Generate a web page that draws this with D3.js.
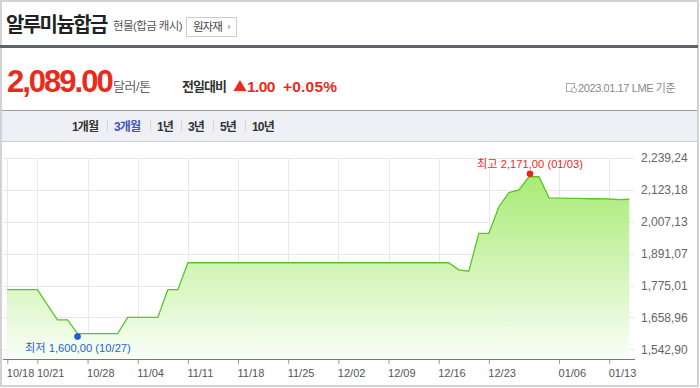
<!DOCTYPE html>
<html>
<head>
<meta charset="utf-8">
<script src="https://cdn.jsdelivr.net/npm/d3@7"></script>
<style>
  body { margin: 0; background: #fff; }
  svg { display: block; font-family: "Liberation Sans", "Noto Sans CJK KR", sans-serif; }
</style>
</head>
<body>
<svg id="chart"></svg>
<script>
// trading days shown on the 3-month chart
const dates = ["10/18","10/19","10/20","10/21","10/24","10/25","10/26","10/27","10/28","10/31",
  "11/01","11/02","11/03","11/04","11/07","11/08","11/09","11/10","11/11","11/14",
  "11/15","11/16","11/17","11/18","11/21","11/22","11/23","11/24","11/25","11/28",
  "11/29","11/30","12/01","12/02","12/05","12/06","12/07","12/08","12/09","12/12",
  "12/13","12/14","12/15","12/16","12/19","12/20","12/21","12/22","12/23","12/28",
  "12/29","12/30","01/03","01/04","01/05","01/06","01/09","01/10","01/11","01/12",
  "01/13","01/16","01/17"]

const prices = [1760,1760,1760,1760,1705,1650,1650,1600,1600,1600,
  1600,1600,1659,1659,1659,1659,1760,1760,1858,1858,
  1858,1858,1858,1858,1858,1858,1858,1858,1858,1858,
  1858,1858,1858,1858,1858,1858,1858,1858,1858,1858,
  1858,1858,1858,1858,1858,1832,1827,1965,1965,2062,
  2113,2123,2171,2171,2094,2093,2092,2092,2091,2091,
  2090,2088,2089]

const tickDates = ["10/18","10/21","10/28","11/04","11/11","11/18","11/25","12/02","12/09","12/16","12/23","01/06","01/13"]
const yTicks = [1542.90, 1658.96, 1775.01, 1891.07, 2007.13, 2123.18, 2239.24]
const yTickLabels = ["1,542,90","1,658,96","1,775,01","1,891,07","2,007,13","2,123,18","2,239,24"]

const tabs = ["1개월","3개월","1년","3년","5년","10년"]
const tabX = [72, 114, 157, 188, 220, 252]

const width = 700, height = 388
const svg = d3.select("#chart").attr("width", width).attr("height", height)

// outer frame
svg.append("rect").attr("x", 1).attr("y", 1).attr("width", 697).attr("height", 385)
  .attr("fill", "none").attr("stroke", "#d2d2d2").attr("stroke-width", 2)

// ---- header ----
svg.append("text").attr("x", 6).attr("y", 32).attr("font-size", 20).attr("font-weight", "bold")
  .attr("letter-spacing", -1.6).attr("fill", "#222").text("알루미늄합금")
svg.append("text").attr("x", 113).attr("y", 30).attr("font-size", 11.5).attr("letter-spacing", -0.6)
  .attr("fill", "#555").text("현물(합금 캐시)")
svg.append("rect").attr("x", 186.5).attr("y", 17.5).attr("width", 50).attr("height", 19)
  .attr("fill", "#fff").attr("stroke", "#ccc")
svg.append("text").attr("x", 193).attr("y", 31).attr("font-size", 11.5).attr("letter-spacing", -1)
  .attr("fill", "#444").text("원자재")
svg.append("path").attr("d", "M228,24.5 L231,27 L228,29.5 Z").attr("fill", "#bbb")

svg.append("rect").attr("x", 0).attr("y", 45).attr("width", 698).attr("height", 3).attr("fill", "#5c636b")

// price row
const red = "#ec2a1c"
svg.append("text").attr("x", 7).attr("y", 91.5).attr("font-size", 31).attr("font-weight", "bold")
  .attr("letter-spacing", -2).attr("fill", red).text("2,089.00")
svg.append("text").attr("x", 113).attr("y", 91).attr("font-size", 13).attr("letter-spacing", -0.5)
  .attr("fill", "#666").text("달러/톤")
svg.append("text").attr("x", 182).attr("y", 91).attr("font-size", 13).attr("font-weight", "bold")
  .attr("letter-spacing", -1).attr("fill", "#333").text("전일대비")
svg.append("path").attr("d", "M240,80 L246.5,91 L233.5,91 Z").attr("fill", red)
svg.append("text").attr("x", 247).attr("y", 91.5).attr("font-size", 15.5).attr("font-weight", "bold")
  .attr("letter-spacing", -0.6).attr("fill", red).text("1.00")
svg.append("text").attr("x", 283).attr("y", 91.5).attr("font-size", 15.5).attr("font-weight", "bold")
  .attr("letter-spacing", 0.2).attr("fill", red).text("+0.05%")

// small clock/calendar icon + date
const icon = svg.append("g").attr("stroke", "#aaa").attr("fill", "none")
icon.append("rect").attr("x", 566.5).attr("y", 83.5).attr("width", 8).attr("height", 8)
icon.append("circle").attr("cx", 574).attr("cy", 90).attr("r", 2.5).attr("fill", "#fff")
svg.append("text").attr("x", 578).attr("y", 91.5).attr("font-size", 11).attr("letter-spacing", -0.4)
  .attr("fill", "#888").text("2023.01.17 LME 기준")

// tab bar
svg.append("rect").attr("x", 2).attr("y", 110).attr("width", 695).attr("height", 31).attr("fill", "#eff0f5")
svg.append("line").attr("x1", 2).attr("x2", 697).attr("y1", 110.5).attr("y2", 110.5).attr("stroke", "#9c9cab")
svg.append("line").attr("x1", 2).attr("x2", 697).attr("y1", 141.5).attr("y2", 141.5).attr("stroke", "#cfd0d6")

const tabG = svg.append("g")
tabG.selectAll("text").data(tabs).join("text")
  .attr("x", (d, i) => tabX[i]).attr("y", 130.5)
  .attr("font-size", 12).attr("font-weight", "bold").attr("letter-spacing", -0.8)
  .attr("fill", d => d === "3개월" ? "#3b58b8" : "#333")
  .text(d => d)
tabG.selectAll("line").data(tabX.slice(1)).join("line")
  .attr("x1", d => d - 6.5).attr("x2", d => d - 6.5).attr("y1", 121).attr("y2", 131)
  .attr("stroke", "#d4d4d8")

// ---- chart ----
const plotLeft = 3, plotRight = 635, baseY = 359

const x = d3.scalePoint().domain(dates).range([7.3, 629.3])
const y = d3.scaleLinear().domain([1542.90, 2239.24]).range([349.3, 158])

const data = dates.map((d, i) => ({ date: d, value: prices[i] }))

const defs = svg.append("defs")
const grad = defs.append("linearGradient").attr("id", "fillGrad")
  .attr("gradientUnits", "userSpaceOnUse").attr("x1", 0).attr("x2", 0)
  .attr("y1", y(d3.max(prices))).attr("y2", baseY)
grad.append("stop").attr("offset", "0%").attr("stop-color", "#a9eb76")
grad.append("stop").attr("offset", "100%").attr("stop-color", "#fafef7")

// grid
const grid = svg.append("g").attr("stroke", "#e8e8e8").attr("stroke-width", 1)
grid.selectAll(".h").data(yTicks).join("line").attr("class", "h")
  .attr("x1", plotLeft).attr("x2", plotRight - 1)
  .attr("y1", d => Math.round(y(d)) + 0.5).attr("y2", d => Math.round(y(d)) + 0.5)
grid.selectAll(".v").data(tickDates).join("line").attr("class", "v")
  .attr("x1", d => Math.round(x(d)) + 0.5).attr("x2", d => Math.round(x(d)) + 0.5)
  .attr("y1", y(2239.24)).attr("y2", baseY)

const area = d3.area().x(d => x(d.date)).y0(baseY).y1(d => y(d.value))
const line = d3.line().x(d => x(d.date)).y(d => y(d.value))

svg.append("path").datum(data).attr("d", area).attr("fill", "url(#fillGrad)")
svg.append("path").datum(data).attr("d", line).attr("fill", "none")
  .attr("stroke", "#58c626").attr("stroke-width", 1.3)

// x axis
const xAxis = svg.append("g").attr("transform", `translate(0,${baseY})`)
  .call(d3.axisBottom(x).tickValues(tickDates).tickSize(5).tickSizeOuter(0))
xAxis.select(".domain").remove()
xAxis.append("line").attr("x1", plotLeft).attr("x2", plotRight).attr("y1", 0.5).attr("y2", 0.5).attr("stroke", "#777")
xAxis.selectAll(".tick line").attr("stroke", "#999")
xAxis.selectAll(".tick text").attr("text-anchor", "start").attr("dx", -1).attr("dy", "0.95em")
  .attr("font-size", 11).attr("fill", "#555").attr("font-family", "Liberation Sans")

// y axis labels
const yAxis = svg.append("g").attr("transform", `translate(${plotRight},0)`)
  .call(d3.axisRight(y).tickValues(yTicks).tickSize(0).tickPadding(6).tickFormat((d, i) => yTickLabels[i]))
yAxis.select(".domain").remove()
yAxis.selectAll(".tick text").attr("font-size", 12).attr("fill", "#666").attr("font-family", "Liberation Sans")

// high / low markers
const hi = data[d3.maxIndex(prices)]
const lo = data[d3.minIndex(prices)]

svg.append("circle").attr("cx", x(hi.date) + 1).attr("cy", y(hi.value) - 3).attr("r", 3.3).attr("fill", "#f02018")
svg.append("text").attr("x", x(hi.date) + 1).attr("y", 168).attr("text-anchor", "middle")
  .attr("font-size", 11.2).attr("fill", "#ee2a1e")
  .text(`최고 ${d3.format(",")(hi.value)},00 (${hi.date})`)

svg.append("circle").attr("cx", x(lo.date)).attr("cy", y(lo.value) + 3).attr("r", 3.3).attr("fill", "#1a5ed6")
svg.append("text").attr("x", 25).attr("y", 351.5)
  .attr("font-size", 11.2).attr("fill", "#1f63d6")
  .text(`최저 ${d3.format(",")(lo.value)},00 (${lo.date})`)
</script>
</body>
</html>
